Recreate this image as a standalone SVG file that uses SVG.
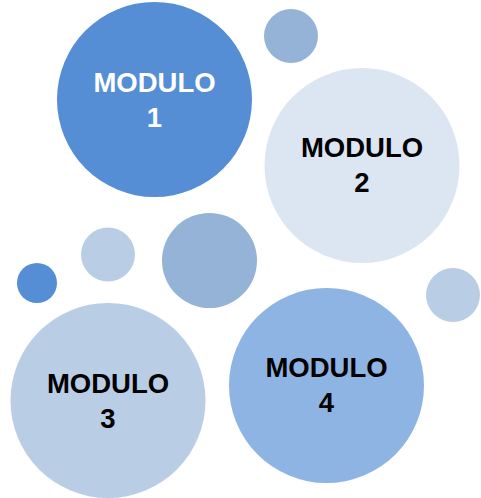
<svg xmlns="http://www.w3.org/2000/svg" width="481" height="498" viewBox="0 0 481 498">
<style>
.lbl{font-family:"Liberation Sans",Arial,sans-serif;font-weight:bold;font-size:27.5px;text-anchor:middle}
.w{fill:#ffffff}
.k{fill:#000000}
</style>
<rect width="481" height="498" fill="#ffffff"/>
<g id="deco">
<circle cx="291" cy="36" r="27" fill="#95B3D7"/>
<circle cx="108" cy="254.5" r="27" fill="#B9CDE5"/>
<circle cx="209.5" cy="260.5" r="47.5" fill="#95B3D7"/>
<circle cx="37" cy="283" r="20" fill="#558ED5"/>
<circle cx="453" cy="295" r="27" fill="#B9CDE5"/>
</g>
<g id="modulo1">
<circle cx="154.5" cy="99.5" r="97.5" fill="#558ED5"/>
<text class="lbl w" x="154.5" y="92">MODULO</text>
<text class="lbl w" x="154.5" y="127">1</text>
</g>
<g id="modulo2">
<circle cx="362" cy="165.5" r="97.5" fill="#DCE6F2"/>
<text class="lbl k" x="362" y="157">MODULO</text>
<text class="lbl k" x="362" y="192">2</text>
</g>
<g id="modulo3">
<circle cx="108" cy="400.5" r="97.5" fill="#B9CDE5"/>
<text class="lbl k" x="108" y="393">MODULO</text>
<text class="lbl k" x="108" y="428">3</text>
</g>
<g id="modulo4">
<circle cx="326.5" cy="385.5" r="97.5" fill="#8EB4E3"/>
<text class="lbl k" x="326.5" y="377">MODULO</text>
<text class="lbl k" x="326.5" y="412">4</text>
</g>
<g id="connectors"/>
</svg>
